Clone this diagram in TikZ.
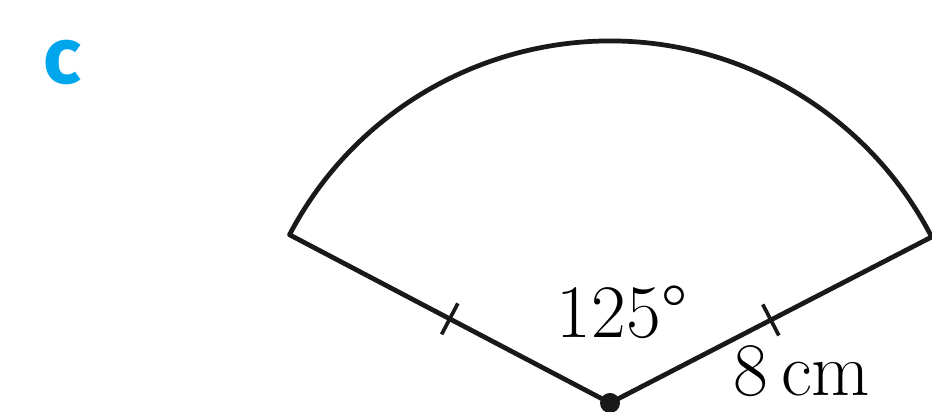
\documentclass[tikz,border=0pt]{standalone}
\usepackage{fontspec}
\usetikzlibrary{calc}
\newfontfamily\partfont{Fira Sans}
\definecolor{partcolor}{RGB}{0,166,235}

\begin{document}
\begin{tikzpicture}[
    edge/.style={line width=2.7pt, black!90, line join=round},
    tickmark/.style={line width=2.1pt, black!90},
    lbl/.style={font=\fontsize{43}{50}\selectfont, inner sep=0pt, anchor=base}
]
\useasboundingbox (0,0) rectangle (18.64,8.24);

% Sector
\coordinate (O) at (12.2,0.18);
\coordinate (A) at ($(O)+(152.3:7.24)$);
\coordinate (B) at ($(O)+(27.3:7.24)$);
\draw[edge] (A) arc[start angle=152.3, end angle=27.3, radius=7.24] -- (O) -- cycle;
\fill[black!90] (O) circle (0.2);

% Equal radii
\draw[tickmark] ($(O)!0.5!(A)$) ++(62.3:0.35) -- ++(242.3:0.7);
\draw[tickmark] ($(O)!0.5!(B)$) ++(117.3:0.35) -- ++(297.3:0.7);

% Labels
\node[font=\partfont\bfseries\fontsize{45}{50}\selectfont, text=partcolor, inner sep=0pt, anchor=base] (part) at (1.24,6.56) {c};
\node[lbl] (angle) at (12.44,1.48) {125°};
\node[lbl] (radius) at (16.04,0.32) {8\,cm};

\end{tikzpicture}
\end{document}
